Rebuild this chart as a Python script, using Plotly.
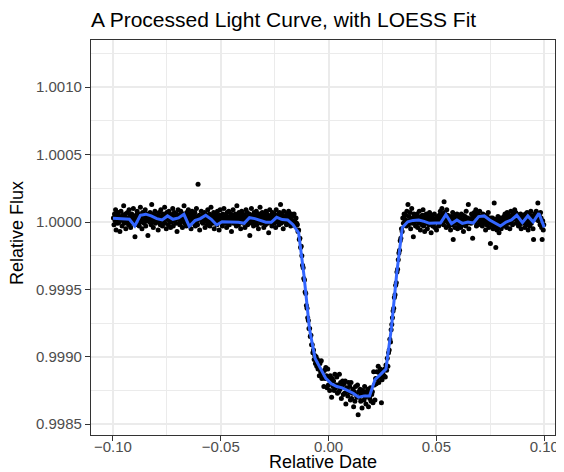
import plotly.graph_objects as go

# ---------------- data ----------------
time_pre = [
 -0.09980,-0.09955,-0.09930,-0.09905,-0.09880,-0.09855,-0.09830,-0.09805,-0.09780,-0.09755,-0.09730,-0.09705,-0.09680,-0.09655,-0.09630,-0.09605,-0.09580,-0.09555,-0.09530,-0.09505,
 -0.09480,-0.09455,-0.09430,-0.09405,-0.09380,-0.09355,-0.09330,-0.09305,-0.09280,-0.09255,-0.09230,-0.09205,-0.09180,-0.09155,-0.09130,-0.09105,-0.09080,-0.09055,-0.09030,-0.09005,
 -0.08980,-0.08955,-0.08930,-0.08905,-0.08880,-0.08855,-0.08830,-0.08805,-0.08780,-0.08755,-0.08730,-0.08705,-0.08680,-0.08655,-0.08630,-0.08605,-0.08580,-0.08555,-0.08530,-0.08505,
 -0.08480,-0.08455,-0.08430,-0.08405,-0.08380,-0.08355,-0.08330,-0.08305,-0.08280,-0.08255,-0.08230,-0.08205,-0.08180,-0.08155,-0.08130,-0.08105,-0.08080,-0.08055,-0.08030,-0.08005,
 -0.07980,-0.07955,-0.07930,-0.07905,-0.07880,-0.07855,-0.07830,-0.07805,-0.07780,-0.07755,-0.07730,-0.07705,-0.07680,-0.07655,-0.07630,-0.07605,-0.07580,-0.07555,-0.07530,-0.07505,
 -0.07480,-0.07455,-0.07430,-0.07405,-0.07380,-0.07355,-0.07330,-0.07305,-0.07280,-0.07255,-0.07230,-0.07205,-0.07180,-0.07155,-0.07130,-0.07105,-0.07080,-0.07055,-0.07030,-0.07005,
 -0.06980,-0.06955,-0.06930,-0.06905,-0.06880,-0.06855,-0.06830,-0.06805,-0.06780,-0.06755,-0.06730,-0.06705,-0.06680,-0.06655,-0.06630,-0.06605,-0.06580,-0.06555,-0.06530,-0.06505,
 -0.06480,-0.06455,-0.06430,-0.06405,-0.06380,-0.06355,-0.06330,-0.06305,-0.06280,-0.06255,-0.06230,-0.06205,-0.06180,-0.06155,-0.06130,-0.06105,-0.06080,-0.06055,-0.06030,-0.06005,
 -0.05980,-0.05955,-0.05930,-0.05905,-0.05880,-0.05855,-0.05830,-0.05805,-0.05780,-0.05755,-0.05730,-0.05705,-0.05680,-0.05655,-0.05630,-0.05605,-0.05580,-0.05555,-0.05530,-0.05505,
 -0.05480,-0.05455,-0.05430,-0.05405,-0.05380,-0.05355,-0.05330,-0.05305,-0.05280,-0.05255,-0.05230,-0.05205,-0.05180,-0.05155,-0.05130,-0.05105,-0.05080,-0.05055,-0.05030,-0.05005,
 -0.04980,-0.04955,-0.04930,-0.04905,-0.04880,-0.04855,-0.04830,-0.04805,-0.04780,-0.04755,-0.04730,-0.04705,-0.04680,-0.04655,-0.04630,-0.04605,-0.04580,-0.04555,-0.04530,-0.04505,
 -0.04480,-0.04455,-0.04430,-0.04405,-0.04380,-0.04355,-0.04330,-0.04305,-0.04280,-0.04255,-0.04230,-0.04205,-0.04180,-0.04155,-0.04130,-0.04105,-0.04080,-0.04055,-0.04030,-0.04005,
 -0.03980,-0.03955,-0.03930,-0.03905,-0.03880,-0.03855,-0.03830,-0.03805,-0.03780,-0.03755,-0.03730,-0.03705,-0.03680,-0.03655,-0.03630,-0.03605,-0.03580,-0.03555,-0.03530,-0.03505,
 -0.03480,-0.03455,-0.03430,-0.03405,-0.03380,-0.03355,-0.03330,-0.03305,-0.03280,-0.03255,-0.03230,-0.03205,-0.03180,-0.03155,-0.03130,-0.03105,-0.03080,-0.03055,-0.03030,-0.03005,
 -0.02980,-0.02955,-0.02930,-0.02905,-0.02880,-0.02855,-0.02830,-0.02805,-0.02780,-0.02755,-0.02730,-0.02705,-0.02680,-0.02655,-0.02630,-0.02605,-0.02580,-0.02555,-0.02530,-0.02505,
 -0.02480,-0.02455,-0.02430,-0.02405,-0.02380,-0.02355,-0.02330,-0.02305,-0.02280,-0.02255,-0.02230,-0.02205,-0.02180,-0.02155,-0.02130,-0.02105,-0.02080,-0.02055,-0.02030,-0.02005,
 -0.01980,-0.01955,-0.01930,-0.01905,-0.01880,-0.01855,-0.01830,-0.01805,-0.01780,-0.01755,-0.01730,-0.01705,
]
flux_pre = [
 1.00003,0.99998,1.00006,1.00001,1.00009,0.99994,1.00002,1.00005,0.99999,1.00007,1.00000,1.00004,0.99993,1.00003,1.00008,1.00002,0.99997,1.00005,1.00001,1.00012,
 0.99999,1.00004,1.00006,0.99995,1.00002,1.00000,1.00007,1.00003,0.99998,1.00009,1.00001,1.00005,0.99996,1.00003,1.00006,0.99999,1.00002,1.00010,1.00000,1.00004,
 0.99989,1.00003,1.00005,1.00001,1.00008,0.99998,1.00006,1.00002,0.99997,1.00004,1.00011,1.00000,1.00003,0.99995,1.00007,1.00002,1.00005,0.99999,1.00004,1.00009,
 0.99997,1.00001,1.00006,1.00003,0.99990,1.00002,1.00005,1.00000,1.00007,1.00004,0.99998,1.00013,1.00001,1.00003,0.99996,1.00006,1.00002,1.00008,0.99999,1.00004,
 1.00004,1.00000,1.00005,0.99994,1.00003,1.00007,1.00001,0.99998,1.00009,1.00004,1.00002,0.99997,1.00006,1.00000,1.00005,1.00011,0.99999,1.00003,0.99995,1.00007,
 1.00002,1.00004,0.99998,1.00008,1.00001,1.00006,0.99996,1.00003,1.00000,1.00005,1.00010,0.99997,1.00002,1.00007,1.00001,1.00004,0.99999,1.00006,0.99993,1.00003,
 1.00009,1.00002,1.00005,0.99998,1.00000,1.00008,1.00003,1.00001,0.99996,1.00006,1.00004,1.00012,0.99999,1.00002,1.00005,0.99997,1.00007,1.00000,1.00003,1.00009,
 0.99998,1.00004,1.00001,1.00006,0.99995,1.00002,1.00008,1.00003,0.99999,1.00005,1.00000,1.00007,0.99997,1.00004,1.00010,1.00001,0.99998,1.00028,1.00003,1.00005,
 0.99994,1.00002,1.00004,1.00008,1.00000,1.00003,0.99999,1.00006,1.00002,1.00007,0.99996,1.00001,1.00005,1.00003,0.99998,1.00009,1.00000,1.00004,1.00006,0.99997,
 1.00002,1.00011,1.00001,1.00005,0.99999,1.00003,1.00007,0.99995,1.00004,1.00000,1.00006,1.00002,0.99998,1.00008,1.00003,1.00001,0.99994,1.00005,1.00009,1.00002,
 1.00000,1.00004,0.99997,1.00006,1.00001,1.00010,1.00003,0.99999,1.00005,1.00002,0.99996,1.00007,1.00000,1.00003,1.00008,0.99998,1.00004,1.00001,1.00006,0.99993,
 1.00005,1.00002,1.00009,0.99999,1.00003,1.00000,1.00006,1.00004,0.99997,1.00012,1.00002,1.00005,0.99998,1.00007,1.00001,1.00004,0.99995,1.00003,1.00008,1.00000,
 1.00006,0.99999,1.00002,1.00005,0.99996,1.00003,1.00009,1.00001,1.00007,0.99998,1.00004,1.00000,1.00006,0.99990,1.00003,1.00002,1.00010,0.99999,1.00005,1.00001,
 0.99997,1.00007,1.00002,1.00004,1.00000,1.00008,0.99998,1.00005,1.00003,0.99995,1.00006,1.00001,1.00011,1.00002,0.99999,1.00004,1.00007,1.00000,1.00003,0.99996,
 1.00005,1.00001,0.99998,1.00008,1.00003,1.00006,0.99999,1.00004,0.99992,1.00002,1.00009,1.00000,1.00005,1.00003,0.99997,1.00007,1.00001,1.00004,0.99999,1.00006,
 1.00002,0.99996,1.00009,1.00003,1.00000,1.00005,1.00001,0.99998,1.00007,1.00004,1.00013,0.99999,1.00003,1.00006,1.00000,0.99995,1.00008,1.00002,1.00004,1.00001,
 1.00003,0.99998,1.00006,1.00000,1.00004,1.00008,0.99999,1.00005,1.00002,0.99997,1.00006,1.00001,
]

time_ingress = [-0.0168,-0.0164,-0.0160,-0.0157,-0.0154,-0.0151,-0.0148,-0.0145,-0.0142,-0.0139,
                -0.0136,-0.0133,-0.0130,-0.0127,-0.0124,-0.0121,-0.0118,-0.0115,-0.0112,-0.0109,
                -0.0106,-0.0103,-0.0100,-0.0097,-0.0094,-0.0091,-0.0088,-0.0085,-0.0082,-0.0079,
                -0.0076,-0.0073,-0.0070,-0.0067,-0.0064,-0.0061,-0.0058,-0.0055,-0.0052,-0.0049]
flux_ingress = [1.00004,0.99999,1.00006,1.00001,0.99997,1.00003,0.99999,0.99998,0.99993,0.99994,
                0.99987,0.99988,0.99981,0.99982,0.99975,0.99968,0.99966,0.99958,0.99957,0.99948,
                0.99947,0.99938,0.99936,0.99929,0.99927,0.99921,0.99921,0.99915,0.99916,0.99909,
                0.99909,0.99903,0.99905,0.99898,0.99901,0.99895,0.99900,0.99893,0.99898,0.99891]

time_bottom = [-0.0046,-0.0043,-0.0040,-0.0037,-0.0034,-0.0031,-0.0028,-0.0025,-0.0022,-0.0019,
               -0.0016,-0.0013,-0.0010,-0.0007,-0.0004,-0.0001,0.0002,0.0005,0.0008,0.0011,
               0.0014,0.0017,0.0020,0.0023,0.0026,0.0029,0.0032,0.0035,0.0038,0.0041,
               0.0044,0.0047,0.0050,0.0053,0.0056,0.0059,0.0062,0.0065,0.0068,0.0071,
               0.0074,0.0077,0.0080,0.0083,0.0086,0.0089,0.0092,0.0095,0.0098,0.0101,
               0.0104,0.0107,0.0110,0.0113,0.0116,0.0119,0.0122,0.0125,0.0128,0.0131,
               0.0134,0.0137,0.0140,0.0143,0.0146,0.0149,0.0152,0.0155,0.0158,0.0161,
               0.0164,0.0167,0.0170,0.0173,0.0176,0.0179,0.0182,0.0185,0.0188,0.0191,
               0.0194,0.0197,0.0200,0.0203,0.0206,0.0209,0.0212,0.0215,0.0218,0.0221,
               0.0224,0.0227,0.0230,0.0233,0.0236,0.0239,0.0242,0.0245,0.0248,0.0251,
               0.0254,0.0257]
flux_bottom = [0.99892,0.99886,0.99895,0.99889,0.99897,0.99884,0.99887,0.99889,0.99878,0.99890,
               0.99884,0.99892,0.99886,0.99877,0.99891,0.99879,0.99884,0.99875,0.99886,0.99883,
               0.99870,0.99884,0.99878,0.99882,0.99875,0.99887,0.99877,0.99879,0.99885,0.99873,
               0.99879,0.99874,0.99887,0.99876,0.99881,0.99869,0.99878,0.99882,0.99872,0.99880,
               0.99873,0.99882,0.99865,0.99877,0.99875,0.99871,0.99881,0.99874,0.99878,0.99868,
               0.99881,0.99869,0.99873,0.99876,0.99863,0.99874,0.99867,0.99878,0.99872,0.99870,
               0.99879,0.99857,0.99874,0.99870,0.99876,0.99867,0.99872,0.99862,0.99875,0.99873,
               0.99868,0.99878,0.99870,0.99865,0.99874,0.99871,0.99876,0.99863,0.99873,0.99869,
               0.99877,0.99867,0.99872,0.99874,0.99866,0.99889,0.99879,0.99868,0.99884,0.99880,
               0.99889,0.99884,0.99893,0.99881,0.99888,0.99891,0.99885,0.99866,0.99883,0.99888,
               0.99890,0.99886]

time_egress = [0.0260,0.0263,0.0266,0.0269,0.0272,0.0275,0.0278,0.0281,0.0284,0.0287,
               0.0290,0.0293,0.0296,0.0299,0.0302,0.0305,0.0308,0.0311,0.0314,0.0317,
               0.0320,0.0323,0.0326,0.0329,0.0332,0.0335,0.0338,0.0341,0.0344,0.0347,
               0.0350,0.0353]
flux_egress = [0.99891,0.99885,0.99894,0.99890,0.99899,0.99893,0.99903,0.99905,0.99913,0.99911,
               0.99920,0.99924,0.99929,0.99934,0.99936,0.99944,0.99946,0.99953,0.99955,0.99963,
               0.99965,0.99972,0.99977,0.99979,0.99986,0.99988,0.99995,0.99993,1.00003,0.99999,
               1.00006,1.00002]

time_post = [
 0.03580,0.03605,0.03630,0.03655,0.03680,0.03705,0.03730,0.03755,0.03780,0.03805,0.03830,0.03855,0.03880,0.03905,0.03930,0.03955,0.03980,0.04005,0.04030,0.04055,
 0.04080,0.04105,0.04130,0.04155,0.04180,0.04205,0.04230,0.04255,0.04280,0.04305,0.04330,0.04355,0.04380,0.04405,0.04430,0.04455,0.04480,0.04505,0.04530,0.04555,
 0.04580,0.04605,0.04630,0.04655,0.04680,0.04705,0.04730,0.04755,0.04780,0.04805,0.04830,0.04855,0.04880,0.04905,0.04930,0.04955,0.04980,0.05005,0.05030,0.05055,
 0.05080,0.05105,0.05130,0.05155,0.05180,0.05205,0.05230,0.05255,0.05280,0.05305,0.05330,0.05355,0.05380,0.05405,0.05430,0.05455,0.05480,0.05505,0.05530,0.05555,
 0.05580,0.05605,0.05630,0.05655,0.05680,0.05705,0.05730,0.05755,0.05780,0.05805,0.05830,0.05855,0.05880,0.05905,0.05930,0.05955,0.05980,0.06005,0.06030,0.06055,
 0.06080,0.06105,0.06130,0.06155,0.06180,0.06205,0.06230,0.06255,0.06280,0.06305,0.06330,0.06355,0.06380,0.06405,0.06430,0.06455,0.06480,0.06505,0.06530,0.06555,
 0.06580,0.06605,0.06630,0.06655,0.06680,0.06705,0.06730,0.06755,0.06780,0.06805,0.06830,0.06855,0.06880,0.06905,0.06930,0.06955,0.06980,0.07005,0.07030,0.07055,
 0.07080,0.07105,0.07130,0.07155,0.07180,0.07205,0.07230,0.07255,0.07280,0.07305,0.07330,0.07355,0.07380,0.07405,0.07430,0.07455,0.07480,0.07505,0.07530,0.07555,
 0.07580,0.07605,0.07630,0.07655,0.07680,0.07705,0.07730,0.07755,0.07780,0.07805,0.07830,0.07855,0.07880,0.07905,0.07930,0.07955,0.07980,0.08005,0.08030,0.08055,
 0.08080,0.08105,0.08130,0.08155,0.08180,0.08205,0.08230,0.08255,0.08280,0.08305,0.08330,0.08355,0.08380,0.08405,0.08430,0.08455,0.08480,0.08505,0.08530,0.08555,
 0.08580,0.08605,0.08630,0.08655,0.08680,0.08705,0.08730,0.08755,0.08780,0.08805,0.08830,0.08855,0.08880,0.08905,0.08930,0.08955,0.08980,0.09005,0.09030,0.09055,
 0.09080,0.09105,0.09130,0.09155,0.09180,0.09205,0.09230,0.09255,0.09280,0.09305,0.09330,0.09355,0.09380,0.09405,0.09430,0.09455,0.09480,0.09505,0.09530,0.09555,
 0.09580,0.09605,0.09630,0.09655,0.09680,0.09705,0.09730,0.09755,0.09780,0.09805,0.09830,0.09855,0.09880,0.09905,0.09930,0.09955,0.09980,
]
flux_post = [
 1.00005,0.99997,1.00008,1.00001,1.00013,0.99998,1.00004,1.00000,1.00007,0.99995,1.00002,1.00010,0.99999,1.00003,0.99989,1.00006,1.00000,1.00004,0.99997,1.00002,
 1.00001,1.00006,0.99996,1.00003,0.99999,1.00008,1.00000,0.99994,1.00004,1.00002,0.99998,1.00005,1.00009,0.99997,1.00001,0.99993,1.00003,1.00000,1.00006,0.99999,
 0.99995,1.00002,1.00004,0.99998,1.00007,1.00000,1.00003,0.99992,1.00001,1.00005,0.99997,1.00002,0.99999,1.00006,0.99996,1.00000,1.00003,0.99994,1.00002,1.00004,
 1.00001,0.99997,1.00005,1.00002,1.00008,0.99999,1.00004,1.00010,1.00003,1.00006,0.99998,1.00015,1.00007,1.00001,1.00004,0.99996,1.00009,1.00002,1.00005,0.99999,
 0.99997,1.00002,1.00000,0.99994,1.00004,0.99998,1.00001,1.00007,0.99987,1.00003,1.00000,0.99996,1.00005,0.99999,1.00002,1.00006,0.99995,1.00001,0.99998,1.00004,
 1.00000,1.00003,0.99996,1.00006,1.00001,0.99998,1.00005,0.99993,1.00002,1.00000,1.00004,0.99997,1.00008,1.00001,0.99999,1.00003,1.00013,0.99995,1.00002,1.00000,
 1.00002,0.99999,1.00006,1.00003,0.99988,1.00005,1.00001,1.00007,1.00000,1.00004,1.00009,0.99997,1.00006,1.00002,0.99998,1.00005,1.00001,1.00008,0.99999,1.00003,
 1.00004,1.00000,0.99997,1.00006,1.00002,0.99999,1.00005,1.00003,0.99994,1.00001,0.99998,1.00004,1.00000,1.00007,0.99996,1.00002,0.99999,0.99984,1.00003,1.00000,
 0.99998,1.00003,0.99995,1.00001,1.00014,0.99997,1.00000,0.99981,1.00002,0.99994,0.99999,1.00004,0.99996,0.99992,1.00001,0.99998,1.00003,0.99995,1.00000,1.00002,
 1.00001,0.99997,1.00004,1.00000,1.00006,0.99998,1.00003,0.99996,1.00007,1.00001,0.99999,1.00005,1.00002,0.99995,1.00003,1.00008,1.00000,1.00004,0.99998,1.00006,
 1.00005,1.00002,1.00009,1.00004,1.00007,0.99999,1.00006,1.00003,1.00000,0.99997,1.00004,0.99998,1.00002,1.00006,0.99995,1.00001,1.00003,0.99999,1.00005,1.00000,
 1.00003,0.99996,1.00006,1.00001,0.99998,1.00007,1.00002,0.99994,1.00004,1.00000,0.99997,1.00005,1.00008,0.99999,1.00002,1.00004,0.99995,0.99987,1.00003,1.00006,
 1.00002,1.00005,1.00008,1.00003,1.00006,1.00014,1.00001,1.00006,1.00004,0.99998,1.00007,1.00003,0.99996,0.99987,1.00001,0.99994,0.99998,
]

loess_time = [-0.1000,-0.0975,-0.0949,-0.0924,-0.0899,-0.0873,-0.0848,-0.0823,-0.0797,-0.0772,
              -0.0747,-0.0722,-0.0696,-0.0671,-0.0646,-0.0620,-0.0595,-0.0570,-0.0544,-0.0519,
              -0.0494,-0.0468,-0.0443,-0.0418,-0.0392,-0.0367,-0.0342,-0.0316,-0.0291,-0.0266,
              -0.0241,-0.0215,-0.0190,-0.0165,-0.0139,-0.0114,-0.0089,-0.0063,-0.0038,-0.0013,
              0.0013,0.0038,0.0063,0.0089,0.0114,0.0139,0.0165,0.0190,0.0215,0.0241,
              0.0266,0.0291,0.0316,0.0342,0.0367,0.0392,0.0418,0.0443,0.0468,0.0494,
              0.0519,0.0544,0.0570,0.0595,0.0620,0.0646,0.0671,0.0696,0.0722,0.0747,
              0.0772,0.0797,0.0823,0.0848,0.0873,0.0899,0.0924,0.0949,0.0975,0.1000]
loess_flux = [1.000027,1.000025,1.000022,1.000020,0.999970,1.000050,1.000058,1.000045,1.000025,1.000015,
              1.000045,1.000020,1.000030,1.000057,0.999968,1.000010,1.000025,1.000050,1.000020,0.999978,
              1.000002,1.000000,1.000000,0.999998,0.999990,1.000032,1.000025,1.000010,0.999998,0.999998,
              1.000035,1.000018,1.000015,0.999980,0.999920,0.999600,0.999210,0.998990,0.998910,0.998840,
              0.998800,0.998780,0.998770,0.998750,0.998730,0.998700,0.998710,0.998710,0.998830,0.998870,
              0.998910,0.999210,0.999620,0.999960,1.000002,1.000012,1.000015,1.000005,0.999990,0.999992,
              0.999992,1.000055,0.999988,1.000015,0.999990,1.000000,0.999992,1.000040,1.000045,1.000015,
              0.999995,0.999970,1.000000,1.000015,1.000050,0.999995,1.000045,1.000000,1.000065,0.999960]

x_tick_vals = [-0.10, -0.05, 0.00, 0.05, 0.10]
x_tick_text = ["\u22120.10", "\u22120.05", "0.00", "0.05", "0.10"]
x_minor_vals = [-0.075, -0.025, 0.025, 0.075]
y_tick_vals = [0.9985, 0.9990, 0.9995, 1.0000, 1.0005, 1.0010]
y_tick_text = ["0.9985", "0.9990", "0.9995", "1.0000", "1.0005", "1.0010"]
y_minor_vals = [0.99875, 0.99925, 0.99975, 1.00025, 1.00075, 1.00125]

# ---------------- figure ----------------
all_time = time_pre + time_ingress + time_bottom + time_egress + time_post
all_flux = flux_pre + flux_ingress + flux_bottom + flux_egress + flux_post

FONT = "Liberation Sans, Arial, Helvetica, sans-serif"
# the page body adds an 8 px offset, so the figure is drawn 8 px smaller
FIG_W, FIG_H = 556, 464
M_L, M_R, M_T, M_B = 83, 9, 32, 37
PLOT_H = FIG_H - M_T - M_B

fig = go.Figure()
fig.add_trace(go.Scatter(
    x=all_time, y=all_flux, mode="markers",
    marker=dict(color="black", size=5.0, line=dict(width=0)),
    showlegend=False, hoverinfo="skip"))
fig.add_trace(go.Scatter(
    x=loess_time, y=loess_flux, mode="lines",
    line=dict(color="#3366FF", width=3),
    showlegend=False, hoverinfo="skip"))

axis_common = dict(
    automargin=False,
    showgrid=True, gridcolor="#EBEBEB", gridwidth=1.6,
    zeroline=False,
    showline=True, mirror=True, linecolor="#333333", linewidth=1.3,
    ticks="outside", ticklen=5, tickwidth=1.1, tickcolor="#333333",
    tickfont=dict(family=FONT, size=15, color="#4D4D4D"),
)

fig.update_layout(
    width=FIG_W, height=FIG_H,
    margin=dict(l=M_L, r=M_R, t=M_T, b=M_B, autoexpand=False),
    paper_bgcolor="white", plot_bgcolor="white",
    font=dict(family=FONT),
    title=dict(text="A Processed Light Curve, with LOESS Fit",
               font=dict(family=FONT, size=21, color="black"),
               xref="paper", x=0, xanchor="left",
               yref="container", y=1 - 11.5 / FIG_H, yanchor="middle",
               automargin=False),
    xaxis=dict(range=[-0.1102, 0.1050], tickmode="array",
               tickvals=x_tick_vals, ticktext=x_tick_text,
               ticklabelstandoff=-7,
               minor=dict(tickvals=x_minor_vals, showgrid=True,
                          gridcolor="#EBEBEB", gridwidth=0.8, ticks=""),
               **axis_common),
    yaxis=dict(range=[0.99842, 1.00135], tickmode="array",
               tickvals=y_tick_vals, ticktext=y_tick_text,
               minor=dict(tickvals=y_minor_vals, showgrid=True,
                          gridcolor="#EBEBEB", gridwidth=0.8, ticks=""),
               **axis_common),
    annotations=[
        dict(text="Relative Date", xref="paper", yref="paper",
             x=0.5, y=-27.5 / PLOT_H, xanchor="center", yanchor="middle",
             showarrow=False, borderpad=0,
             font=dict(family=FONT, size=18, color="black")),
        dict(text="Relative Flux", xref="paper", yref="paper",
             x=-(91 - 17) / 464, y=(435 - 233) / PLOT_H, xanchor="center", yanchor="middle",
             textangle=-90, showarrow=False, borderpad=0,
             font=dict(family=FONT, size=18, color="black")),
    ],
)

fig.write_html("out.html")
